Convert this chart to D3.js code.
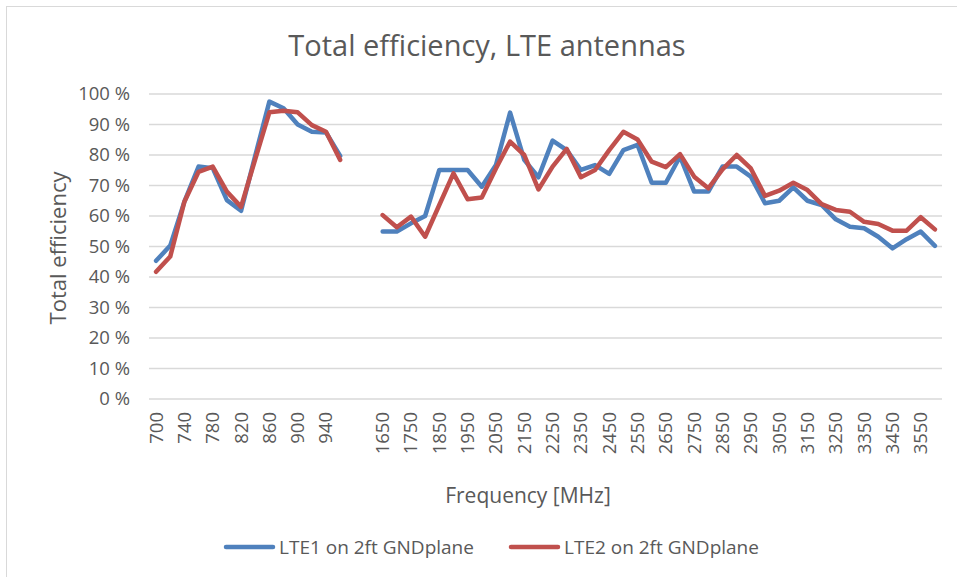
<!DOCTYPE html>
<html>
<head>
<meta charset="utf-8">
<script src="https://cdn.jsdelivr.net/npm/d3@7"></script>
<style>
  body { margin: 0; background: #fff; }
  svg text { font-family: "Open Sans", sans-serif; fill: #595959; }
</style>
</head>
<body>
<svg id="chart" width="957" height="577"></svg>
<script>
// frequency categories (MHz), two empty slots between the bands
const categories = ["700","720","740","760","780","800","820","840","860","880","900","920","940","960",
  "","",
  "1650","1700","1750","1800","1850","1900","1950","2000","2050","2100","2150","2200","2250","2300",
  "2350","2400","2450","2500","2550","2600","2650","2700","2750","2800","2850","2900","2950","3000",
  "3050","3100","3150","3200","3250","3300","3350","3400","3450","3500","3550","3600"]

const lte1 = [45.3,50.3,64.7,76.2,75.7,65.2,61.7,79.7,97.5,95.3,90.0,87.6,87.4,79.7,
  null,null,
  54.9,54.9,57.6,60.0,75.1,75.1,75.1,69.6,76.7,93.9,78.4,72.7,84.7,81.6,
  75.1,76.7,73.8,81.6,83.3,70.9,70.9,79.5,68.0,68.0,76.2,76.2,72.9,64.2,
  65.0,69.4,65.0,63.6,58.9,56.5,56.0,53.2,49.4,52.4,54.9,50.2]

const lte2 = [41.7,46.7,64.7,74.5,76.2,68.0,63.0,78.6,94.0,94.5,94.0,89.8,87.6,78.4,
  null,null,
  60.3,56.3,59.8,53.2,63.6,74.0,65.5,66.1,75.6,84.4,80.0,68.7,76.2,82.0,
  72.7,75.1,81.6,87.6,85.1,77.8,76.0,80.3,72.9,69.1,75.3,80.0,75.6,66.6,
  68.3,70.9,68.5,63.9,62.0,61.4,58.1,57.4,55.2,55.2,59.6,55.6]

const seriesNames = ["LTE1 on 2ft GNDplane", "LTE2 on 2ft GNDplane"]
const colors = ["#4f81bd", "#c0504d"]
const yTicks = [0,10,20,30,40,50,60,70,80,90,100]

const svg = d3.select('#chart')

// chart border (only top/left visible in the picture)
svg.append('rect')
  .attr('x', 6.5).attr('y', 6.5)
  .attr('width', 1000).attr('height', 1000)
  .attr('fill', 'none').attr('stroke', '#d9d9d9')

const x = d3.scaleBand()
  .domain(d3.range(categories.length))
  .range([149, 942])
const cx = i => x(i) + x.bandwidth() / 2

const y = d3.scaleLinear().domain([0, 100]).range([399, 94])

// gridlines
svg.append('g')
  .selectAll('line')
  .data(yTicks)
  .join('line')
  .attr('x1', 149).attr('x2', 942)
  .attr('y1', d => y(d)).attr('y2', d => y(d))
  .attr('stroke', '#d9d9d9')
  .attr('stroke-width', 1.5)

// y axis labels
const yAxis = svg.append('g')
  .attr('transform', 'translate(130,0)')
  .call(d3.axisLeft(y).tickValues(yTicks).tickSize(0).tickFormat(d => d + ' %'))
yAxis.select('.domain').remove()
yAxis.selectAll('text')
  .attr('font-size', 18.5)
  .attr('font-family', null)
  .attr('x', 0)

// x axis labels, every second category
const xAxis = svg.append('g')
  .attr('transform', 'translate(0,399)')
  .call(d3.axisBottom(x)
    .tickValues(d3.range(0, categories.length, 2))
    .tickSize(0)
    .tickFormat(i => categories[i]))
xAxis.select('.domain').remove()
xAxis.selectAll('text')
  .attr('font-size', 18.5)
  .attr('font-family', null)
  .attr('transform', 'rotate(-90)')
  .attr('text-anchor', 'end')
  .attr('x', -13)
  .attr('y', 0)
  .attr('dy', '0.35em')

// lines
const line = d3.line()
  .defined(d => d.v != null)
  .x(d => cx(d.i))
  .y(d => y(d.v))

const series = [lte1, lte2]
svg.append('g')
  .selectAll('path')
  .data(series)
  .join('path')
  .attr('d', s => line(s.map((v, i) => ({i, v}))))
  .attr('fill', 'none')
  .attr('stroke', (s, k) => colors[k])
  .attr('stroke-width', 4.5)
  .attr('stroke-linejoin', 'round')
  .attr('stroke-linecap', 'round')

// title
svg.append('text')
  .attr('x', 487).attr('y', 56)
  .attr('text-anchor', 'middle')
  .attr('font-size', 29)
  .text('Total efficiency, LTE antennas')

// axis titles
svg.append('text')
  .attr('transform', 'translate(66,248) rotate(-90)')
  .attr('text-anchor', 'middle')
  .attr('font-size', 22)
  .text('Total efficiency')

svg.append('text')
  .attr('x', 528).attr('y', 503)
  .attr('text-anchor', 'middle')
  .attr('font-size', 21)
  .text('Frequency [MHz]')

// legend
const legendX = [226, 511]
const legend = svg.append('g')
  .selectAll('g')
  .data(seriesNames)
  .join('g')
  .attr('transform', (d, k) => `translate(${legendX[k]},547)`)
legend.append('line')
  .attr('x1', 0).attr('x2', 47)
  .attr('stroke', (d, k) => colors[k])
  .attr('stroke-width', 4.5)
  .attr('stroke-linecap', 'round')
legend.append('text')
  .attr('x', 53).attr('dy', '0.35em')
  .attr('font-size', 19)
  .text(d => d)
</script>
</body>
</html>
